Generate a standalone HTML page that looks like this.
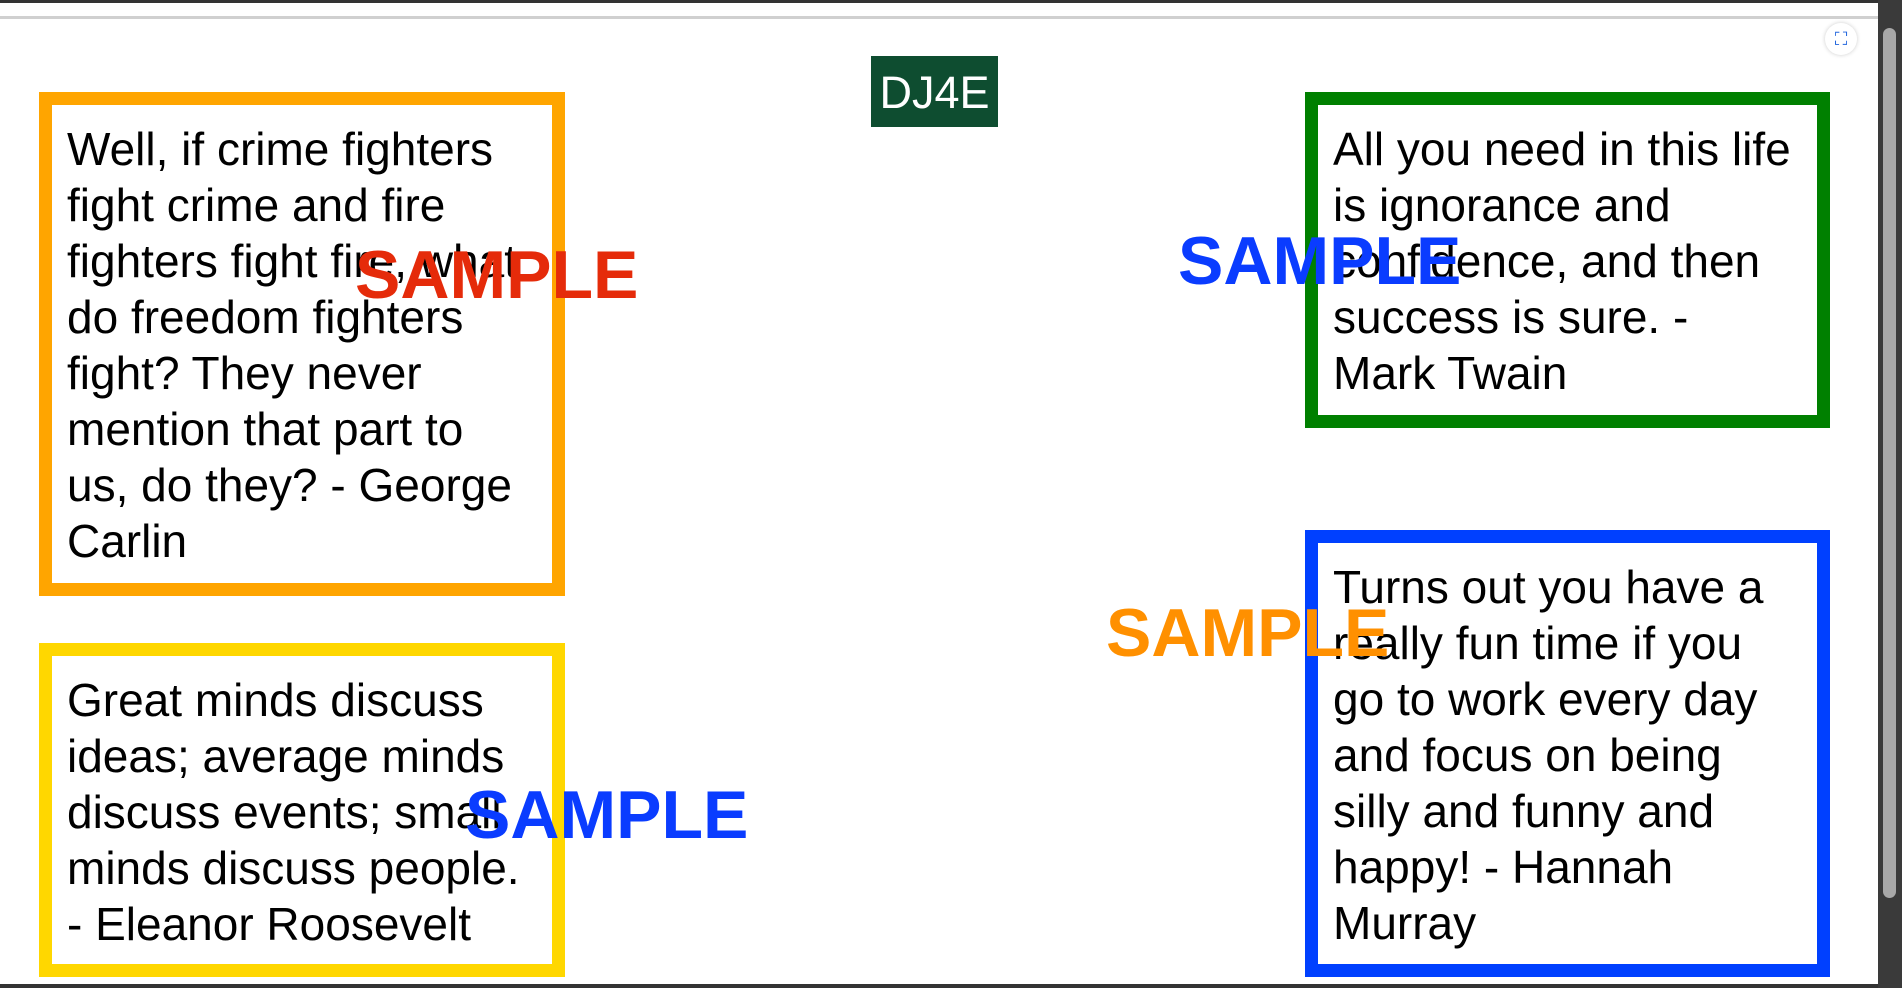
<!DOCTYPE html>
<html><head><meta charset="utf-8"><style>
html,body{margin:0;padding:0;width:1902px;height:988px;overflow:hidden;background:#fff;font-family:"Liberation Sans",Arial,sans-serif;}
.abs{position:absolute;}
.box{position:absolute;box-sizing:border-box;border:13px solid;}
.q{position:absolute;font-size:46px;line-height:56px;color:#000;white-space:nowrap;}
.s{position:absolute;font-size:68px;line-height:68px;font-weight:bold;white-space:nowrap;}
</style></head><body>
<div class="abs" style="left:0;top:0;width:1902px;height:3px;background:#333;"></div>
<div class="abs" style="left:0;top:16px;width:1878px;height:3px;background:#d0d0d0;"></div>
<div class="abs" style="left:1878px;top:0;width:24px;height:988px;background:#3a3a3a;"></div>
<div class="abs" style="left:1883px;top:28px;width:13px;height:870px;background:#a8a8a8;border-radius:7px;"></div>
<div class="abs" style="left:0;top:984px;width:1878px;height:4px;background:#333;"></div>
<div class="abs" style="left:1825px;top:23px;width:32px;height:32px;border-radius:16px;background:#fff;box-shadow:0 0 4px #ccc;color:#2266dd;font-size:18px;text-align:center;line-height:32px;">⛶</div>

<div class="abs" style="left:871px;top:56px;width:127px;height:71px;background:#0e4d30;color:#fff;font-size:45px;line-height:73px;text-align:center;">DJ4E</div>

<div class="box" style="left:39px;top:92px;width:526px;height:504px;border-color:#ffa500;"></div>
<div class="box" style="left:39px;top:643px;width:526px;height:334px;border-color:#ffd700;"></div>
<div class="box" style="left:1305px;top:92px;width:525px;height:336px;border-color:#008000;"></div>
<div class="box" style="left:1305px;top:530px;width:525px;height:447px;border-color:#0040ff;"></div>

<div class="q" style="left:67px;top:121px;">Well, if crime fighters<br>fight crime and fire<br>fighters fight fire, what<br>do freedom fighters<br>fight? They never<br>mention that part to<br>us, do they? - George<br>Carlin</div>
<div class="q" style="left:67px;top:672px;">Great minds discuss<br>ideas; average minds<br>discuss events; small<br>minds discuss people.<br>- Eleanor Roosevelt</div>
<div class="q" style="left:1333px;top:121px;">All you need in this life<br>is ignorance and<br>confidence, and then<br>success is sure. -<br>Mark Twain</div>
<div class="q" style="left:1333px;top:559px;">Turns out you have a<br>really fun time if you<br>go to work every day<br>and focus on being<br>silly and funny and<br>happy! - Hannah<br>Murray</div>

<div class="s" style="left:355px;top:241px;color:#e52b0a;">SAMPLE</div>
<div class="s" style="left:1178px;top:227px;color:#0a3cff;">SAMPLE</div>
<div class="s" style="left:1106px;top:599px;color:#ff9000;">SAMPLE</div>
<div class="s" style="left:465px;top:781px;color:#0a3cff;">SAMPLE</div>
</body></html>
